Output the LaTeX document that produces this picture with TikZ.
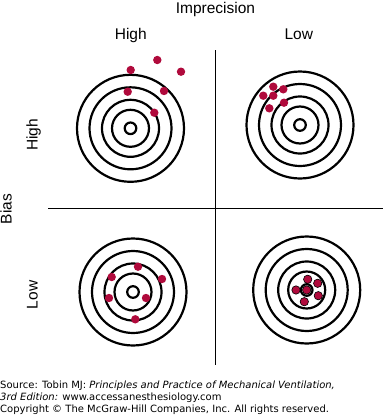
\documentclass[tikz,border=0pt]{standalone}
\usepackage{fontspec}
\setmainfont{Liberation Sans}
\newfontfamily\footfont{DejaVu Sans}
\definecolor{dotred}{HTML}{B00A3C}
\begin{document}
\begin{tikzpicture}[x=1pt,y=-1pt,
  ring/.style={line width=2.2pt},
  dot/.style={fill=dotred},
  odot/.style={fill=dotred,draw=black,line width=0.6pt},
  axis/.style={line width=1.2pt},
  lbl/.style={inner sep=0pt, font=\fontsize{15.5}{18}\selectfont},
  foot/.style={inner sep=0pt, anchor=base west, font=\footfont\fontsize{10}{12}\selectfont},
  target/.pic={\foreach \r in {53.5,41,28.5,18.5,5.8} \draw[ring] (0,0) circle[radius=\r];}]
\useasboundingbox (0,0) rectangle (383,418);
\fill[white] (0,0) rectangle (383,418);
% axes
\coordinate (vtop) at (215.3,50);
\coordinate (vbot) at (215.3,365);
\coordinate (hl) at (48,208.3);
\coordinate (hr) at (383,208.3);
\draw[axis] (vtop) -- (vbot);
\draw[axis] (hl) -- (hr);
% labels
\node[lbl, anchor=base] (imp) at (215.5,13) {Imprecision};
\node[lbl, anchor=base] (hiT) at (130.8,39.3) {High};
\node[lbl, anchor=base] (loT) at (298.8,39.3) {Low};
\node[lbl, anchor=base, rotate=90] (bias) at (11.7,209) {Bias};
\node[lbl, anchor=base, rotate=90] (hiL) at (37.7,135) {High};
\node[lbl, anchor=base, rotate=90] (loL) at (37.7,295) {Low};
% targets
\pic at (130.5,128.3) {target};
\pic at (300,125) {target};
\pic at (133,292) {target};
\pic at (306.7,290) {target};
% dots
\foreach \p in {(130.7,70),(157.3,60),(181,71.7),(127.7,91.7),(164,91),(154.3,112.7)}
  \fill[dot] \p circle[radius=4.2];
\foreach \p in {(263.3,95.7),(273.3,86.7),(283.3,89.3),(273.3,95.7),(269.3,108.3),(284,102.7)}
  \fill[dot] \p circle[radius=4.2];
\foreach \p in {(138,266.7),(111.7,277),(162,279),(109,298),(146,298),(135.3,319.3)}
  \fill[dot] \p circle[radius=4.2];
\foreach \p in {(307.7,279.3),(317.7,283.3),(296,290),(306.7,290),(318.3,295.7),(304.3,301.7)}
  \filldraw[odot] \p circle[radius=4.2];
% footer
\node[foot] (f1) at (0,388.3) {Source: Tobin MJ: \textit{Principles and Practice of Mechanical Ventilation,}};
\node[foot] (f2) at (0,400.3) {\textit{3rd Edition:} www.accessanesthesiology.com};
\node[foot] (f3) at (0,412.3) {Copyright © The McGraw-Hill Companies, Inc. All rights reserved.};
\end{tikzpicture}
\end{document}
